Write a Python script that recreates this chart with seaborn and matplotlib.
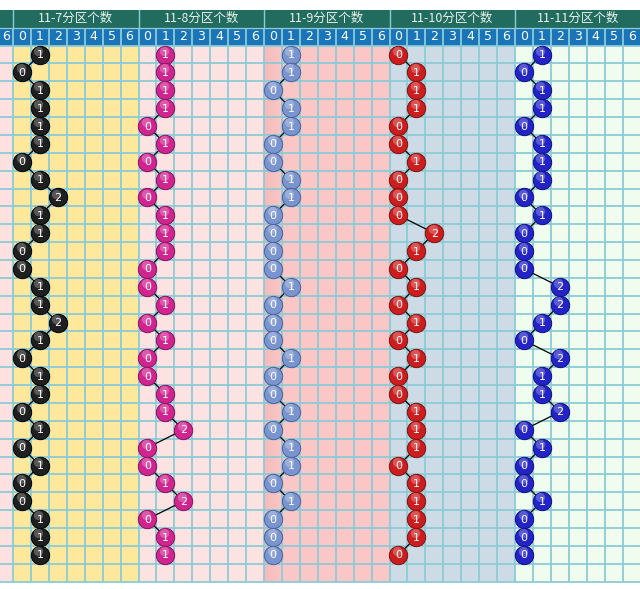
import numpy as np
import pandas as pd
import matplotlib
matplotlib.use("Agg")
import matplotlib.pyplot as plt
import seaborn as sns
from matplotlib.patches import Rectangle

# ---------------- data ----------------
groups = ["11-7分区个数", "11-8分区个数", "11-9分区个数", "11-10分区个数", "11-11分区个数"]
col_labels = ["0", "1", "2", "3", "4", "5", "6"]
s11_7 = [1, 0, 1, 1, 1, 1, 0, 1, 2, 1, 1, 0, 0, 1, 1, 2, 1, 0, 1, 1, 0, 1, 0, 1, 0, 0, 1, 1, 1]
s11_8 = [1, 1, 1, 1, 0, 1, 0, 1, 0, 1, 1, 1, 0, 0, 1, 0, 1, 0, 0, 1, 1, 2, 0, 0, 1, 2, 0, 1, 1]
s11_9 = [1, 1, 0, 1, 1, 0, 0, 1, 1, 0, 0, 0, 0, 1, 0, 0, 0, 1, 0, 0, 1, 0, 1, 1, 0, 1, 0, 0, 0]
s11_10 = [0, 1, 1, 1, 0, 0, 1, 0, 0, 0, 2, 1, 0, 1, 0, 1, 0, 1, 0, 0, 1, 1, 1, 0, 1, 1, 1, 1, 0]
s11_11 = [1, 0, 1, 1, 0, 1, 1, 1, 0, 1, 0, 0, 0, 2, 2, 1, 0, 2, 1, 1, 2, 0, 1, 0, 0, 1, 0, 0, 0]
series = [s11_7, s11_8, s11_9, s11_10, s11_11]

# ---------------- styles ----------------
ball_colors = ["#1f1f1f", "#d0248e", "#7a94cf", "#cc1e1e", "#2424c6"]
ball_edges = ["#000000", "#8a1260", "#4a619a", "#801010", "#101080"]
bg_colors = ["#fde89c", "#fde2e2", "#fbc6c6", "#cddbe6", "#effcee"]
left_bg = "#fde1e1"
title_bg = "#216b5f"
num_bg = "#1a75b8"
grid_c = "#8ccbd6"
ncol = 7
nrows = 30  # 29 data rows + 1 empty
part_w = 0.725

plt.rcParams["font.family"] = ["Noto Sans CJK SC", "DejaVu Sans"]

fig = plt.figure(figsize=(6.4, 5.89), dpi=100)
ax = fig.add_axes([0, 0, 1, 1])
x0 = -0.5 - part_w
ax.axis("off")

ngroups = len(groups)
xend = ngroups * ncol - 0.5

# backgrounds
ax.add_patch(Rectangle((x0, -0.5), part_w, nrows, fc=left_bg, ec="none", zorder=0))
for g in range(ngroups):
    ax.add_patch(Rectangle((g * ncol - 0.5, -0.5), ncol, nrows, fc=bg_colors[g], ec="none", zorder=0))
# darker first column of 11-9 group (gradient look)
for k, a in enumerate(np.linspace(0.25, 0.0, 10)):
    ax.add_patch(Rectangle((2 * ncol - 0.5 + k * 0.1, -0.5), 0.1, nrows,
                           fc="#e89a9a", alpha=a, ec="none", zorder=0.1))

# header rows
ax.add_patch(Rectangle((x0, -2.5), xend - x0, 1, fc=title_bg, ec="none", zorder=0))
ax.add_patch(Rectangle((x0, -1.5), xend - x0, 1, fc=num_bg, ec="none", zorder=0))

# grid lines
for i in range(nrows + 1):
    ax.plot([x0, xend], [i - 0.5, i - 0.5], color=grid_c, lw=1.3, zorder=1, solid_capstyle="butt")
ax.plot([x0, xend], [-1.5, -1.5], color=grid_c, lw=0.9, zorder=1)
for k in range(ngroups * ncol + 1):
    ax.plot([k - 0.5, k - 0.5], [-1.5, nrows - 0.5], color=grid_c, lw=1.3, zorder=1, solid_capstyle="butt")
for g in range(ngroups + 1):
    ax.plot([g * ncol - 0.5] * 2, [-2.5, -1.5], color=grid_c, lw=1.0, zorder=1)

# header texts
for g, name in enumerate(groups):
    ax.text(g * ncol + 3, -2.0, name, ha="center", va="center", color="#e8f4ea",
            fontsize=9, zorder=3)
    for c, lab in enumerate(col_labels):
        ax.text(g * ncol + c, -1.0, lab, ha="center", va="center", color="white",
                fontsize=9, family="DejaVu Sans", zorder=3)
ax.text(x0 + part_w / 2 - 0.05, -1.0, col_labels[-1], ha="center", va="center", color="white",
        fontsize=9, family="DejaVu Sans", zorder=3)

# long table of balls
rows = []
for g, vals in enumerate(series):
    for r, v in enumerate(vals):
        rows.append({"group": groups[g], "row": r, "value": v, "x": g * ncol + v})
df = pd.DataFrame(rows)

for g, name in enumerate(groups):
    d = df[df["group"] == name]
    sns.lineplot(data=d, x="x", y="row", sort=False, estimator=None, color="black",
                 lw=0.9, ax=ax, zorder=4, legend=False)
    sns.scatterplot(data=d, x="x", y="row", color=ball_colors[g], edgecolor=ball_edges[g],
                    linewidth=0.7, s=175, ax=ax, zorder=5, legend=False)
    # glossy highlight
    ax.scatter(d["x"] - 0.08, d["row"] - 0.22, s=45, color="white", alpha=0.25,
               linewidths=0, zorder=6)
    for _, rr in d.iterrows():
        ax.text(rr["x"], rr["row"] + 0.03, str(rr["value"]), ha="center", va="center",
                color="white", fontsize=8, family="DejaVu Sans", zorder=7)

ax.set_xlim(x0, x0 + 640 / 17.93)
ax.set_ylim(29.91, -3.05)
fig.savefig("out.png", dpi=100)
